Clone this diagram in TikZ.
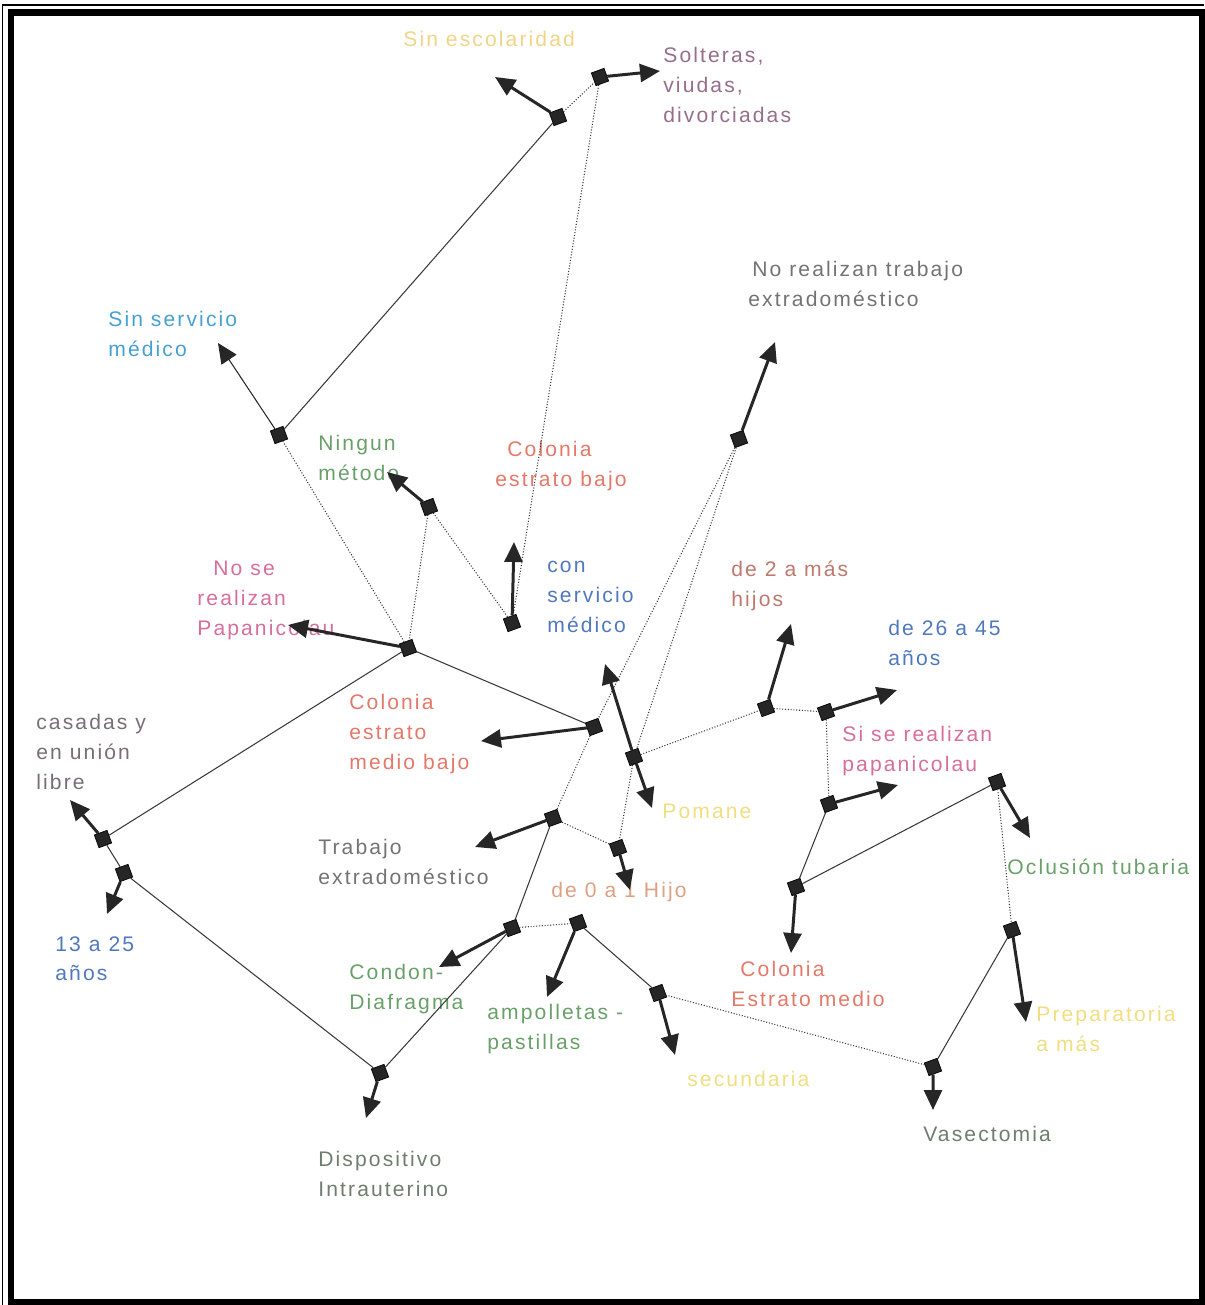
\documentclass[tikz,border=0pt]{standalone}
\usepackage{fontspec}
\newfontfamily\labelfont{Liberation Sans}[LetterSpace=10]
\usetikzlibrary{positioning, arrows.meta}
\definecolor{cyellow}{RGB}{240,222,130}
\definecolor{corange}{RGB}{240,212,135}
\definecolor{cmauve}{RGB}{150,110,140}
\definecolor{cgrey}{RGB}{115,115,115}
\definecolor{clightblue}{RGB}{70,160,210}
\definecolor{cblue}{RGB}{80,120,190}
\definecolor{cgreen}{RGB}{105,160,105}
\definecolor{cgreygreen}{RGB}{110,125,110}
\definecolor{csalmon}{RGB}{228,120,105}
\definecolor{cpink}{RGB}{215,110,155}
\definecolor{cbrown}{RGB}{190,120,110}
\definecolor{ctan}{RGB}{222,160,130}
\definecolor{cpurple}{RGB}{120,110,120}
\tikzset{
hub/.style={ % the little black squares
rectangle, draw=black, fill=black!85,
minimum size=0.27cm, inner sep=0pt, rotate=20},
lbl/.style={ % category names
font=\labelfont\fontsize{12}{17}\selectfont,
align=left, anchor=north west, inner sep=0pt},
link/.style={ % thin grey lines between squares
draw=gray!45!black, line width=0.6pt},
dlink/.style={link, densely dotted}, % dotted ones
arrow/.style={ % thick arrows pointing to the names
draw=black!85, line width=1.7pt,
-{Triangle[length=0.4cm,width=0.36cm]}},
thinarrow/.style={arrow, line width=0.6pt}}

\begin{document}
\begin{tikzpicture}[x=0.02cm, y=-0.02cm]
    \useasboundingbox (0,0) rectangle (1204,1305);

    % squares
    \node[hub] (escol) at (558,117) {};
    \node[hub] (solt) at (600,77) {};
    \node[hub] (sinserv) at (279,435) {};
    \node[hub] (ningun) at (429,507) {};
    \node[hub] (colbajo) at (512,623) {};
    \node[hub] (nosepap) at (408,648) {};
    \node[hub] (colmb) at (594,727) {};
    \node[hub] (notrab) at (739,439) {};
    \node[hub] (condon) at (512,928) {};
    \node[hub] (diu) at (380,1073) {};
    \node[hub] (cerouno) at (618,848) {};
    \node[hub] (perm) at (634,757) {};
    \node[hub] (dosmas) at (766,708) {};
    \node[hub] (edadb) at (826,712) {};
    \node[hub] (sisepap) at (829,804) {};
    \node[hub] (colmedio) at (796,887) {};
    \node[hub] (oclusion) at (997,782) {};
    \node[hub] (prepa) at (1012,930) {};
    \node[hub] (vasec) at (933,1067) {};
    \node[hub] (secund) at (658,993) {};
    \node[hub] (ampol) at (578,923) {};
    \node[hub] (trabajo) at (553,818) {};
    \node[hub] (edada) at (124,873) {};
    \node[hub] (casadas) at (103,839) {};

    % names
    \node[lbl, text=corange] (escol-l) at (403,31) {Sin escolaridad};
    \node[lbl, text=cmauve] (solt-l) at (663,47) {Solteras,\\viudas,\\divorciadas};
    \node[lbl, text=cgrey] (notrab-l) at (748,261) {\hspace*{0.08cm}No realizan trabajo\\extradoméstico};
    \node[lbl, text=clightblue] (sinserv-l) at (108,311) {Sin servicio\\médico};
    \node[lbl, text=cgreen] (ningun-l) at (318,435) {Ningun\\método};
    \node[lbl, text=csalmon] (colbajo-l) at (495,441) {\hspace*{0.24cm}Colonia\\estrato bajo};
    \node[lbl, text=cblue] (conserv-l) at (547,561) {con\\servicio\\médico};
    \node[lbl, text=cpink] (nosepap-l) at (197,561) {\hspace*{0.32cm}No se\\realizan\\Papanicolau};
    \node[lbl, text=cbrown] (dosmas-l) at (731,561) {de 2 a más\\hijos};
    \node[lbl, text=cblue] (edadb-l) at (888,620) {de 26 a 45\\años};
    \node[lbl, text=csalmon] (colmb-l) at (349,694) {Colonia\\estrato\\medio bajo};
    \node[lbl, text=cpurple] (casadas-l) at (36,714) {casadas y\\en unión\\libre};
    \node[lbl, text=cpink] (sisepap-l) at (842,726) {Si se realizan\\papanicolau};
    \node[lbl, text=cyellow] (perm-l) at (662,804) {Pomane};
    \node[lbl, text=cgrey] (trabajo-l) at (318,839) {Trabajo\\extradoméstico};
    \node[lbl, text=cgreen] (oclusion-l) at (1007,859) {Oclusión tubaria};
    \node[lbl, text=ctan] (cerouno-l) at (551,882) {de 0 a 1 Hijo};
    \node[lbl, text=cblue] (edada-l) at (55,936) {13 a 25\\años};
    \node[lbl, text=csalmon] (colmedio-l) at (731,961) {\hspace*{0.18cm}Colonia\\Estrato medio};
    \node[lbl, text=cgreen] (condon-l) at (349,964) {Condon-\\Diafragma};
    \node[lbl, text=cgreen] (ampol-l) at (487,1004) {ampolletas -\\pastillas};
    \node[lbl, text=cyellow] (prepa-l) at (1036,1006) {Preparatoria\\a más};
    \node[lbl, text=cyellow] (secund-l) at (687,1071) {secundaria};
    \node[lbl, text=cgreygreen] (vasec-l) at (923,1126) {Vasectomia};
    \node[lbl, text=cgreygreen] (diu-l) at (318,1151) {Dispositivo\\Intrauterino};

    % arrow tips
    \coordinate (escol-t) at (495,77);
    \coordinate (solt-t) at (660,71);
    \coordinate (sinserv-t) at (218,343);
    \coordinate (ningun-t) at (387,472);
    \coordinate (colbajo-t) at (514,542);
    \coordinate (nosepap-t) at (288,625);
    \coordinate (colmb-t) at (481,741);
    \coordinate (notrab-t) at (775,342);
    \coordinate (condon-t) at (439,967);
    \coordinate (diu-t) at (366,1118);
    \coordinate (cerouno-t) at (630,890);
    \coordinate (perm-up) at (605,664);
    \coordinate (perm-dn) at (652,808);
    \coordinate (dosmas-t) at (791,624);
    \coordinate (edadb-t) at (897,690);
    \coordinate (sisepap-t) at (898,785);
    \coordinate (colmedio-t) at (791,953);
    \coordinate (oclusion-t) at (1030,838);
    \coordinate (prepa-t) at (1026,1022);
    \coordinate (vasec-t) at (933,1110);
    \coordinate (secund-t) at (675,1055);
    \coordinate (ampol-t) at (547,997);
    \coordinate (trabajo-t) at (475,847);
    \coordinate (edada-t) at (107,914);
    \coordinate (casadas-t) at (70,800);

    % lines between squares
    \draw[link] (escol) -- (sinserv);
    \draw[dlink] (escol) -- (solt);
    \draw[dlink] (solt) -- (colbajo);
    \draw[dlink] (sinserv) -- (nosepap);
    \draw[dlink] (ningun) -- (nosepap);
    \draw[dlink] (ningun) -- (colbajo);
    \draw[link] (nosepap) -- (casadas);
    \draw[link] (nosepap) -- (colmb);
    \draw[dlink] (notrab) -- (colmb);
    \draw[dlink] (notrab) -- (perm);
    \draw[dlink] (perm) -- (cerouno);
    \draw[dlink] (colmb) -- (trabajo);
    \draw[link] (trabajo) -- (condon);
    \draw[dlink] (trabajo) -- (cerouno);
    \draw[link] (condon) -- (diu);
    \draw[dlink] (condon) -- (ampol);
    \draw[link] (casadas) -- (edada);
    \draw[link] (edada) -- (diu);
    \draw[dlink] (perm) -- (dosmas);
    \draw[dlink] (dosmas) -- (edadb);
    \draw[dlink] (edadb) -- (sisepap);
    \draw[link] (sisepap) -- (colmedio);
    \draw[link] (colmedio) -- (oclusion);
    \draw[dlink] (oclusion) -- (prepa);
    \draw[link] (prepa) -- (vasec);
    \draw[dlink] (vasec) -- (secund);
    \draw[link] (secund) -- (ampol);

    % arrows to the names
    \draw[arrow] (escol) -- (escol-t);
    \draw[arrow] (solt) -- (solt-t);
    \draw[thinarrow] (sinserv) -- (sinserv-t);
    \draw[arrow] (ningun) -- (ningun-t);
    \draw[arrow] (colbajo) -- (colbajo-t);
    \draw[arrow] (nosepap) -- (nosepap-t);
    \draw[arrow] (colmb) -- (colmb-t);
    \draw[arrow] (notrab) -- (notrab-t);
    \draw[arrow] (condon) -- (condon-t);
    \draw[arrow] (diu) -- (diu-t);
    \draw[arrow] (cerouno) -- (cerouno-t);
    \draw[arrow] (perm) -- (perm-up);
    \draw[arrow] (perm) -- (perm-dn);
    \draw[arrow] (dosmas) -- (dosmas-t);
    \draw[arrow] (edadb) -- (edadb-t);
    \draw[arrow] (sisepap) -- (sisepap-t);
    \draw[arrow] (colmedio) -- (colmedio-t);
    \draw[arrow] (oclusion) -- (oclusion-t);
    \draw[arrow] (prepa) -- (prepa-t);
    \draw[arrow] (vasec) -- (vasec-t);
    \draw[arrow] (secund) -- (secund-t);
    \draw[arrow] (ampol) -- (ampol-t);
    \draw[arrow] (trabajo) -- (trabajo-t);
    \draw[arrow] (edada) -- (edada-t);
    \draw[arrow] (casadas) -- (casadas-t);

    % frame
    \draw[line width=0.03cm] (2.5,1305) -- (2.5,5) -- (1204,5);
    \draw[line width=0.14cm] (11,1302) -- (11,12.5) -- (1202,12.5) -- (1202,1302) -- cycle;

\end{tikzpicture}
\end{document}
